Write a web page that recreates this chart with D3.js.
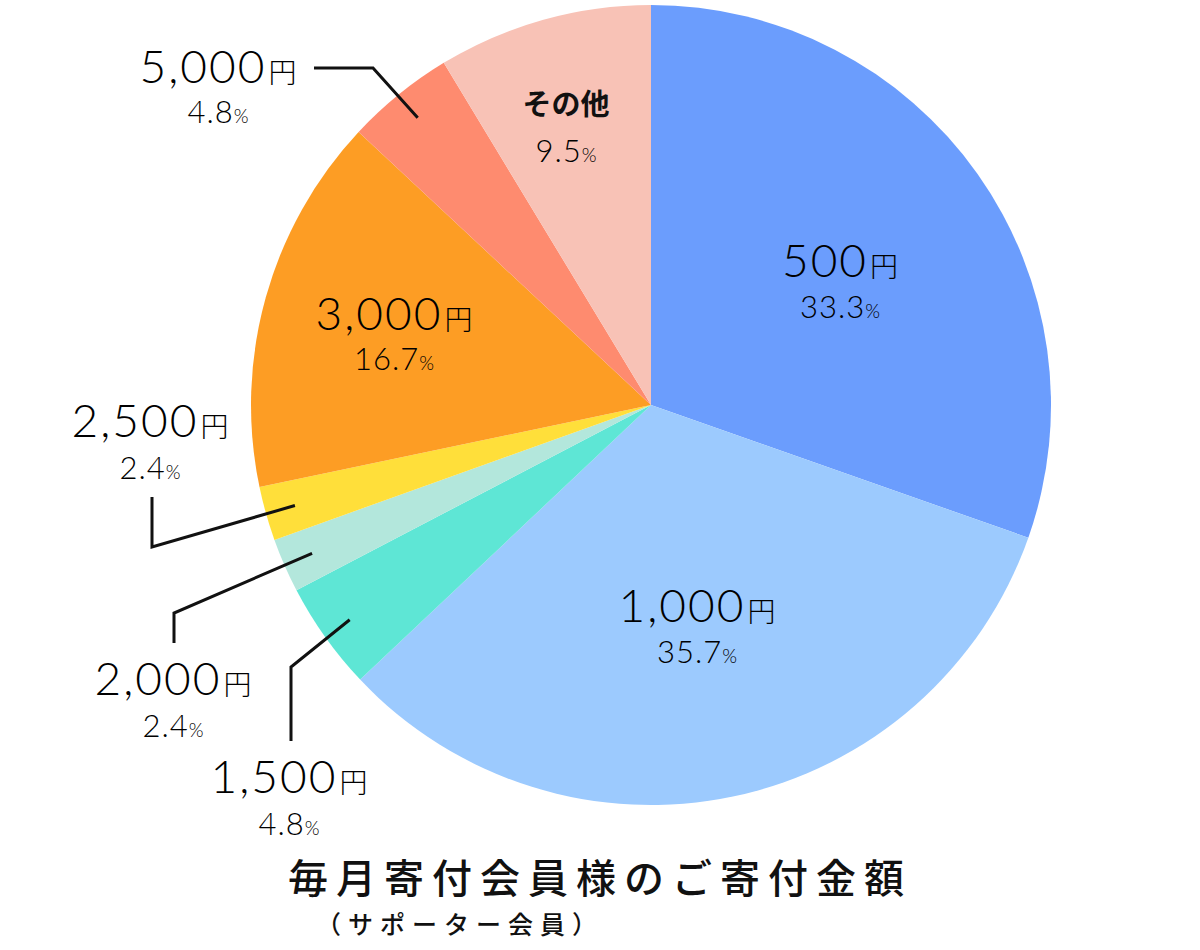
<!DOCTYPE html>
<html>
<head>
<meta charset="utf-8">
<script src="https://cdn.jsdelivr.net/npm/d3@7"></script>
<style>
  body { margin: 0; background: #fff; }
  svg { display: block; }
  .num { font-family: Lato, "Noto Sans CJK JP", sans-serif; font-weight: 300; fill: #000; }
</style>
</head>
<body>
<svg id="chart" width="1200" height="950"></svg>
<script>
// data
const categories = ["500", "1,000", "1,500", "2,000", "2,500", "3,000", "5,000", "その他"];
const shares     = [33.3, 35.7, 4.8, 2.4, 2.4, 16.7, 4.8, 9.5];
const colors     = ["#6b9dfd", "#9ccafe", "#5ee6d5", "#b3e7dc", "#ffdf3a", "#fd9d24", "#fe8b6f", "#f8c2b6"];
const title      = "毎月寄付会員様のご寄付金額";
const subtitle   = "（サポーター会員）";

// label layout: [dx, dy] of amount baseline from the pie centre, pct line gap,
// and for outside labels the leader-line elbow and end
const labelPos = {
    "500":   { at: [189, -128], gap: 41 },
    "1,000": { at: [46, 217],   gap: 41 },
    "1,500": { at: [-362, 388], gap: 42, leader: [[-360, 262], [-360, 336]] },
    "2,000": { at: [-478, 290], gap: 42, leader: [[-477, 208], [-477, 238]] },
    "2,500": { at: [-501, 32],  gap: 42, leader: [[-499, 142], [-499, 92]] },
    "3,000": { at: [-257, -75], gap: 40 },
    "5,000": { at: [-433, -322], gap: 40, leader: [[-278, -337], [-337, -337]] },
    "その他": { at: [-85, -290], gap: 47 }
};

const svg = d3.select("#chart");
const cx = 651, cy = 405, radius = 400;

const rows = categories.map((c, i) => ({ name: c, value: shares[i], color: colors[i] }));

const pie = d3.pie().sort(null).value(d => d.value);
const arc = d3.arc().innerRadius(0).outerRadius(radius);
const leaderArc = d3.arc().innerRadius(370).outerRadius(370);

const g = svg.append("g").attr("transform", `translate(${cx},${cy})`);
const arcs = pie(rows);

g.selectAll(".slice")
    .data(arcs)
    .join("path")
    .attr("class", "slice")
    .attr("d", arc)
    .attr("fill", d => d.data.color);

// leader lines
g.selectAll(".leader")
    .data(arcs.filter(d => labelPos[d.data.name].leader))
    .join("path")
    .attr("class", "leader")
    .attr("fill", "none")
    .attr("stroke", "#111")
    .attr("stroke-width", 3)
    .attr("d", d => d3.line()([leaderArc.centroid(d), ...labelPos[d.data.name].leader]));

// labels
const lab = g.selectAll(".lab")
    .data(arcs)
    .join("g")
    .attr("class", "lab")
    .attr("transform", d => `translate(${labelPos[d.data.name].at})`);

lab.each(function (d) {
    const el = d3.select(this);
    const p = labelPos[d.data.name];
    const top = el.append("text").attr("text-anchor", "middle");
    if (d.data.name === "その他") {
        top.attr("font-family", "'Noto Sans CJK JP', sans-serif")
            .attr("font-weight", 700)
            .attr("font-size", 29)
            .attr("fill", "#111")
            .text(d.data.name);
    } else {
        top.attr("class", "num");
        top.append("tspan").attr("font-size", 46).attr("letter-spacing", 2).text(d.data.name);
        top.append("tspan").attr("font-size", 28).attr("dx", 2)
            .attr("font-family", "'Noto Sans CJK JP', sans-serif").attr("font-weight", 300).text("円");
    }
    const bot = el.append("text").attr("class", "num")
        .attr("font-weight", 400)
        .attr("text-anchor", "middle").attr("y", p.gap);
    bot.append("tspan").attr("font-size", 31).attr("letter-spacing", 1).text(d.data.value.toFixed(1));
    bot.append("tspan").attr("font-size", 19).text("%");
});

// titles
svg.append("text")
    .attr("x", 600).attr("y", 893)
    .attr("text-anchor", "middle")
    .attr("font-family", "'Noto Sans CJK JP', sans-serif")
    .attr("font-weight", 500)
    .attr("font-size", 40)
    .attr("letter-spacing", 8)
    .attr("fill", "#111")
    .text(title);

svg.append("text")
    .attr("x", 316).attr("y", 934)
    .attr("font-family", "'Noto Sans CJK JP', sans-serif")
    .attr("font-weight", 500)
    .attr("font-size", 25)
    .attr("letter-spacing", 7)
    .attr("fill", "#111")
    .text(subtitle);
</script>
</body>
</html>
